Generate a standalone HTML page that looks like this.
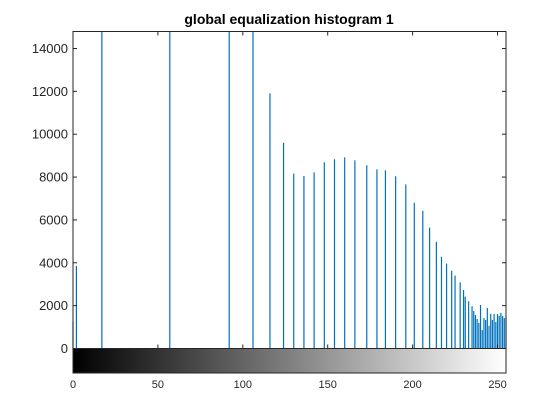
<!DOCTYPE html>
<html><head><meta charset="utf-8"><style>
body{margin:0;background:#fff}
svg{display:block;font-family:"Liberation Sans",Arial,sans-serif}
</style></head><body>
<svg id="chart" width="560" height="420" viewBox="0 0 560 420">
<defs><linearGradient id="g" x1="0" x2="1"><stop offset="0" stop-color="#000"/><stop offset="1" stop-color="#fff"/></linearGradient></defs>
<text x="289" y="24" text-anchor="middle" font-size="14" font-weight="bold" fill="#000">global equalization histogram 1</text>
<g id="stems"></g>
<g id="axes"></g>
</svg>
<script>
const bins=[0,2,17,57,92,106,116,124,130,136,142,148,154,160,166,173,179,184,190,196,201,206,210,214,217,220,223,225,228,230,231,233,235,236,237,238,239,240,241,242,243,244,245,246,247,248,249,250,251,252,253,254,255];
const counts=[1250,3850,20000,20000,20000,20000,11910,9600,8160,8050,8220,8690,8830,8920,8780,8550,8360,8320,8040,7660,6800,6430,5640,4980,4280,3960,3630,3400,3090,2730,2420,2200,1970,1750,1560,1380,1190,2030,860,1420,1330,1890,1060,1610,1330,1610,1240,1610,1520,1660,1520,1420,1470];
const yTicks=[0,2000,4000,6000,8000,10000,12000,14000];
const xTicks=[0,50,100,150,200,250];
const L=73,R=506,T=31.5,B=348.5,CB=373,XMAX=255,YMAX=14793;
const sx=v=>L+(v/XMAX)*(R-L);
const sy=v=>B-(v/YMAX)*(B-T);
const NS='http://www.w3.org/2000/svg';
function mk(t,a,p){const e=document.createElementNS(NS,t);for(const k in a)e.setAttribute(k,a[k]);p.appendChild(e);return e;}
const st=document.getElementById('stems'),ax=document.getElementById('axes');
bins.forEach((b,i)=>{
 const y=Math.max(sy(counts[i]),T);
 const l=mk('line',{x1:sx(b),x2:sx(b),y1:B,y2:y,stroke:'#0072BD','stroke-width':1.2},st);
 
 
});
const cb=mk('rect',{x:L,y:B,width:R-L,height:CB-B,fill:'url(#g)',stroke:'#262626','stroke-width':1},ax);


const fr=mk('rect',{x:L,y:T,width:R-L,height:CB-T,fill:'none',stroke:'#262626','stroke-width':1},ax);


yTicks.forEach(v=>{
 const y=sy(v);
 mk('line',{x1:L,x2:L+4,y1:y,y2:y,stroke:'#262626'},ax);
 mk('line',{x1:R,x2:R-4,y1:y,y2:y,stroke:'#262626'},ax);
 const t=mk('text',{x:L-5,y:y+4.5,'text-anchor':'end','font-size':13,fill:'#262626'},ax);
 t.textContent=v;
 
 
});
xTicks.forEach(v=>{
 const x=sx(v);
 mk('line',{x1:x,x2:x,y1:B,y2:B-4,stroke:'#262626'},ax);
 mk('line',{x1:x,x2:x,y1:T,y2:T+4,stroke:'#262626'},ax);
 const t=mk('text',{x:x,y:CB+15,'text-anchor':'middle','font-size':11,fill:'#262626'},ax);
 t.textContent=v;
 
 
});
</script>
</body></html>
